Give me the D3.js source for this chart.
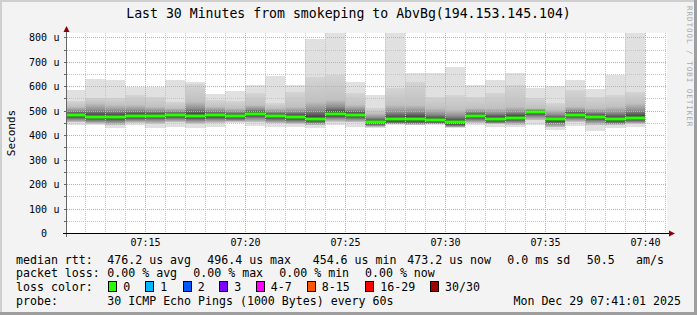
<!DOCTYPE html>
<html>
<head>
<meta charset="utf-8">
<script src="https://cdn.jsdelivr.net/npm/d3@7"></script>
<style>
  body { margin: 0; background: #f3f3f3; }
  svg { display: block; }
  text { font-family: "DejaVu Sans Mono", monospace; fill: #000; }
</style>
</head>
<body>
<script>
// one smoke column per minute (start time of the 60s step)
const minutes = ["07:11","07:12","07:13","07:14","07:15","07:16","07:17","07:18","07:19","07:20",
                 "07:21","07:22","07:23","07:24","07:25","07:26","07:27","07:28","07:29","07:30",
                 "07:31","07:32","07:33","07:34","07:35","07:36","07:37","07:38","07:39"];

// ping spread per column, in microseconds
const pingMax = [585,630,625,596,598,625,619,568,582,605,642,605,792,840,619,564,840,653,653,680,605,625,653,593,601,625,590,647,840];
const pingP90 = [540,553,553,564,557,537,608,544,540,571,530,578,639,646,571,510,591,619,557,564,557,571,605,551,530,585,557,564,578];
const pingP75 = [516,530,523,523,516,510,537,516,510,523,510,516,537,544,523,489,523,523,510,503,510,510,516,510,503,516,510,516,530];
const median  = [483,476,476,480,480,483,480,482,479,487,479,475,468,487,484,454,465,468,461,453,479,468,472,495,464,484,475,466,472];
const pingP25 = [465,458,456,462,463,466,461,464,462,470,461,457,450,469,466,440,448,446,448,437,462,450,455,478,447,467,458,448,455];
const pingP10 = [452,447,440,451,446,452,446,450,455,452,448,445,440,455,452,434,445,443,444,432,450,446,442,460,432,454,440,442,446];
const pingMin = [441,441,428,441,428,432,428,432,448,437,432,432,428,441,435,428,441,441,441,428,441,435,432,441,421,437,417,428,432];

const yTicks = [0,100,200,300,400,500,600,700,800];
const xTicks = ["07:15","07:20","07:25","07:30","07:35","07:40"];

const lossLabels = ["0","1","2","3","4-7","8-15","16-29","30/30"];
const lossColors = ["#26ff00","#00b8ff","#0059ff","#7e00ff","#ff00ff","#ff5500","#ff0000","#a10000"];

const title = "Last 30 Minutes from smokeping to AbvBg(194.153.145.104)";

const width = 697, height = 315;
const plot = {left: 67, right: 667, top: 33, bottom: 233};

const parse = d3.timeParse("%H:%M:%S");
const parseMin = s => parse(s + ":00");

const x = d3.scaleTime()
    .domain([parse("07:11:05"), parse("07:41:05")])
    .range([plot.left, plot.right]);

const y = d3.scaleLinear()
    .domain([0, 817.6])
    .range([plot.bottom, plot.top]);

const px = v => Math.round(v);

const svg = d3.select("body").append("svg")
    .attr("width", width)
    .attr("height", height);

// frame
svg.append("rect").attr("width", width).attr("height", height).attr("fill", "#f3f3f3");
svg.append("rect").attr("x", 0).attr("y", 0).attr("width", width).attr("height", 2).attr("fill", "#cfcfcf");
svg.append("rect").attr("x", 0).attr("y", 0).attr("width", 2).attr("height", height).attr("fill", "#cfcfcf");
svg.append("rect").attr("x", 0).attr("y", height - 3).attr("width", width).attr("height", 3).attr("fill", "#9e9e9e");
svg.append("rect").attr("x", width - 3).attr("y", 0).attr("width", 3).attr("height", height).attr("fill", "#9e9e9e");

// canvas
svg.append("rect")
    .attr("x", plot.left).attr("y", plot.top)
    .attr("width", plot.right - plot.left).attr("height", plot.bottom - plot.top)
    .attr("fill", "#fff");

svg.append("clipPath").attr("id", "clip")
  .append("rect")
    .attr("x", plot.left).attr("y", plot.top)
    .attr("width", plot.right - plot.left).attr("height", plot.bottom - plot.top);

const cols = minutes.map((m, i) => {
    const t0 = parseMin(m);
    const t1 = d3.timeMinute.offset(t0, 1);
    return {
        i, x0: Math.max(plot.left, px(x(t0))), x1: px(x(t1)),
        max: pingMax[i], p90: pingP90[i], p75: pingP75[i], med: median[i],
        p25: pingP25[i], p10: pingP10[i], min: pingMin[i]
    };
});

// gradients for the inner smoke, stops at the quantiles
const defs = svg.append("defs");
cols.forEach(d => {
    const top = y(d.p90), bot = y(d.p10);
    const off = v => (y(v) - top) / (bot - top);
    const g = defs.append("linearGradient")
        .attr("id", "smoke" + d.i)
        .attr("gradientUnits", "userSpaceOnUse")
        .attr("x1", 0).attr("x2", 0).attr("y1", top).attr("y2", bot);
    const mid = (off(d.p75) + off(d.med)) / 2;
    [[0, "#d4d4d4"], [off(d.p75), "#c0c0c0"], [mid, "#8e8e8e"], [off(d.med) - 0.02, "#3c3c3c"],
     [off(d.med) + 0.02, "#2e2e2e"], [off(d.p25), "#888888"], [1, "#cacaca"]]
      .forEach(([o, c]) => g.append("stop").attr("offset", Math.max(0, Math.min(1, o))).attr("stop-color", c));
});

const smoke = svg.append("g").attr("clip-path", "url(#clip)");

smoke.selectAll("rect.outer")
  .data(cols)
  .join("rect")
    .attr("class", "outer")
    .attr("x", d => d.x0)
    .attr("width", d => d.x1 - d.x0)
    .attr("y", d => px(y(d.max)))
    .attr("height", d => px(y(d.min)) - px(y(d.max)))
    .attr("fill", "#e0e0e0");

smoke.selectAll("rect.inner")
  .data(cols)
  .join("rect")
    .attr("class", "inner")
    .attr("x", d => d.x0)
    .attr("width", d => d.x1 - d.x0)
    .attr("y", d => px(y(d.p90)))
    .attr("height", d => px(y(d.p10)) - px(y(d.p90)))
    .attr("fill", d => `url(#smoke${d.i})`);

// median, coloured by loss (0 loss everywhere)
smoke.selectAll("rect.median")
  .data(cols)
  .join("rect")
    .attr("class", "median")
    .attr("x", d => d.x0)
    .attr("width", d => d.x1 - d.x0)
    .attr("y", d => px(y(d.med)) - 1.5)
    .attr("height", 3)
    .attr("fill", lossColors[0]);

// grid
const grid = svg.append("g");
const minorY = d3.range(50, 818, 50);
grid.selectAll("line.gy")
  .data(minorY)
  .join("line")
    .attr("x1", plot.left).attr("x2", plot.right)
    .attr("y1", d => px(y(d)) + 0.5).attr("y2", d => px(y(d)) + 0.5)
    .attr("stroke", d => d % 100 === 0 ? "#e4a0a0" : "#c4c4c4")
    .attr("stroke-dasharray", "1,1");

const minorX = d3.timeMinute.range(parse("07:12:00"), parse("07:42:00"));
grid.selectAll("line.gx")
  .data(minorX)
  .join("line")
    .attr("x1", d => px(x(d)) + 0.5).attr("x2", d => px(x(d)) + 0.5)
    .attr("y1", plot.top).attr("y2", plot.bottom)
    .attr("stroke", d => d.getMinutes() % 5 === 0 ? "#e4a0a0" : "#c4c4c4")
    .attr("stroke-dasharray", "1,1");

// axes
const axis = svg.append("g");
axis.append("line")
    .attr("x1", plot.left - 0.5).attr("x2", plot.left - 0.5)
    .attr("y1", plot.bottom + 4).attr("y2", plot.top - 3)
    .attr("stroke", "#666");
axis.append("line")
    .attr("x1", plot.left - 4).attr("x2", plot.right + 2)
    .attr("y1", plot.bottom + 0.5).attr("y2", plot.bottom + 0.5)
    .attr("stroke", "#000");
axis.selectAll("line.ty")
  .data(minorY)
  .join("line")
    .attr("x1", plot.left - 3).attr("x2", plot.left - 1)
    .attr("y1", d => px(y(d)) + 0.5).attr("y2", d => px(y(d)) + 0.5)
    .attr("stroke", "#666");
axis.append("path")
    .attr("d", `M${plot.left - 3.5},${plot.top - 1}L${plot.left - 0.5},${plot.top - 7}L${plot.left + 2.5},${plot.top - 1}Z`)
    .attr("fill", "#8b0000");
axis.append("path")
    .attr("d", `M${plot.right + 2},${plot.bottom - 2.5}L${plot.right + 8},${plot.bottom + 0.5}L${plot.right + 2},${plot.bottom + 3.5}Z`)
    .attr("fill", "#8b0000");

// tick labels
svg.append("g").selectAll("text")
  .data(yTicks)
  .join("text")
    .attr("x", 47)
    .attr("y", d => px(y(d)) + 3.5)
    .attr("text-anchor", "end")
    .style("font-size", "10px")
    .text(d => d);
svg.append("g").selectAll("text")
  .data(yTicks.filter(d => d > 0))
  .join("text")
    .attr("x", 53.5)
    .attr("y", d => px(y(d)) + 3.5)
    .style("font-size", "10px")
    .text("u");
svg.append("g").selectAll("text")
  .data(xTicks)
  .join("text")
    .attr("x", d => px(x(parseMin(d))) + 0.5)
    .attr("y", 245.5)
    .attr("text-anchor", "middle")
    .style("font-size", "10px")
    .text(d => d);

svg.append("text")
    .attr("transform", "translate(14.5,133) rotate(-90)")
    .attr("text-anchor", "middle")
    .style("font-size", "11px")
    .text("Seconds");

svg.append("text")
    .attr("x", 348.5).attr("y", 18)
    .attr("text-anchor", "middle")
    .style("font-size", "13.2px")
    .text(title);

svg.append("text")
    .attr("transform", "translate(686.5,6) rotate(90)")
    .style("font-size", "7.5px")
    .style("fill", "#a8a8a8")
    .style("letter-spacing", "1px")
    .text("RRDTOOL / TOBI OETIKER");

// legend
const legend = svg.append("g").style("font-size", "11.6px");
const rows = [
  [263.5, [[16, "median rtt:"], [107.3, "476.2 us avg"], [207.3, "496.4 us max"], [312.7, "454.6 us min"],
           [407.3, "473.2 us now"], [507.3, "0.0 ms sd"], [586.7, "50.5"], [636, "am/s"]]],
  [277, [[16, "packet loss:"], [107.3, "0.00 % avg"], [193.3, "0.00 % max"], [279.3, "0.00 % min"], [365, "0.00 % now"]]],
  [290.5, [[16, "loss color:"]]],
  [304.5, [[16, "probe:"], [107.3, "30 ICMP Echo Pings (1000 Bytes) every 60s"]]]
];
rows.forEach(([yy, items]) => {
    items.forEach(([xx, s]) => legend.append("text").attr("x", xx).attr("y", yy).text(s));
});
legend.append("text").attr("x", 681).attr("y", 304.5).attr("text-anchor", "end").text("Mon Dec 29 07:41:01 2025");

const boxX = [108.3, 145.3, 182.7, 219.3, 255.7, 306.7, 365.3, 430];
lossLabels.forEach((l, i) => {
    legend.append("rect")
        .attr("x", Math.round(boxX[i]) + 0.5).attr("y", 281.5)
        .attr("width", 8).attr("height", 10)
        .attr("fill", lossColors[i]).attr("stroke", "#000");
    legend.append("text").attr("x", boxX[i] + 15).attr("y", 290.5).text(l);
});
</script>
</body>
</html>
